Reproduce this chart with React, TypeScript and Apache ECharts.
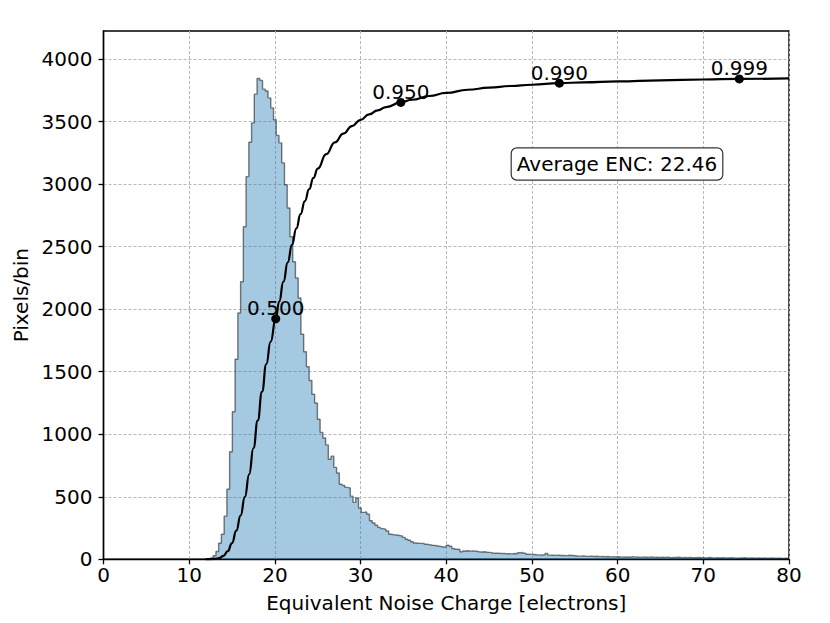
import React, { useEffect, useRef } from "react";
import * as echarts from "echarts";

// Histogram: left edge of first bin and bin width (electrons)
const binStart = 11.84;
const binWidth = 0.32;
const histCounts = [
  2, 4, 10, 28, 62, 128, 200, 345, 560, 860,
  1180, 1600, 1970, 2220, 2660, 3060, 3335, 3490, 3720, 3845,
  3830, 3760, 3745, 3690, 3610, 3515, 3390, 3330, 3170, 2995,
  2810, 2580, 2380, 2250, 2090, 1800, 1660, 1540, 1430, 1320,
  1250, 1120, 1015, 970, 915, 800, 825, 735, 690, 600,
  590, 575, 570, 505, 455, 490, 410, 375, 378, 360,
  308, 290, 272, 255, 245, 240, 226, 200, 196, 194,
  190, 186, 175, 160, 152, 140, 130, 128, 127, 126,
  120, 116, 112, 110, 106, 102, 98, 100, 112, 104,
  86, 80, 78, 60, 66, 68, 65, 67, 64, 60,
  58, 60, 56, 55, 50, 48, 49, 46, 47, 44,
  45, 43, 46, 44, 52, 54, 48, 40, 39, 38,
  36, 35, 34, 36, 46, 33, 32, 31, 33, 30,
  31, 29, 32, 30, 28, 26, 25, 27, 24, 23,
  25, 22, 24, 21, 23, 20, 22, 19, 21, 18,
  20, 17, 19, 18, 16, 21, 17, 18, 15, 19,
  16, 17, 18, 15, 16, 14, 17, 15, 16, 13,
  15, 14, 16, 13, 14, 12, 15, 13, 12, 14,
  12, 13, 11, 14, 12, 11, 13, 10, 12, 11,
  10, 12, 11, 9, 11, 10, 12, 9, 10, 11,
  9, 10, 8, 10, 9, 8, 10, 9, 8, 9,
  7, 9, 8,
];

// Cumulative curve (scaled)
const cdfX = [
  12.0, 13.0, 13.5, 14.0, 14.5, 15.0, 15.5, 16.0, 16.5, 17.0,
  17.5, 18.0, 18.5, 19.0, 19.5, 20.1, 20.5, 21.0, 21.5, 22.0,
  22.5, 23.0, 23.5, 24.0, 24.5, 25.0, 26.0, 27.0, 28.0, 29.0, 30.0,
  31.0, 32.0, 33.0, 34.7, 36.0, 38.0, 40.0, 42.5, 45.0, 47.5,
  50.0, 53.2, 56.0, 60.0, 65.0, 70.0, 74.2, 80.0,
];
const cdfY = [
  0, 3, 10, 28, 65, 130, 230, 350, 500, 680,
  890, 1110, 1340, 1560, 1740, 1923, 2060, 2220, 2375, 2515,
  2645, 2760, 2865, 2960, 3050, 3125, 3240, 3335, 3405, 3465, 3515,
  3558, 3590, 3617, 3654, 3675, 3705, 3730, 3755, 3772, 3785,
  3795, 3808, 3814, 3822, 3830, 3837, 3842, 3846,
];

// Quantile markers
const quantileLabels = ["0.500", "0.950", "0.990", "0.999"];
const quantileX = [20.1, 34.7, 53.2, 74.2];
const quantileY = [1923, 3654, 3808, 3842];

const yTickValues = [0, 500, 1000, 1500, 2000, 2500, 3000, 3500, 4000];
const xAxisTitle = "Equivalent Noise Charge [electrons]";
const yAxisTitle = "Pixels/bin";
const annotationText = "Average ENC: 22.46";

const FONT = "DejaVu Sans";
const FS = 20;

export default function App() {
  const ref = useRef<HTMLDivElement>(null);

  useEffect(() => {
    document.body.style.margin = "0";
    if (!ref.current) return;
    const chart = echarts.init(ref.current, undefined, { renderer: "svg" });

    const histData: number[][] = histCounts.map((v, i) => [binStart + i * binWidth, v]);
    histData.push([80, histCounts[histCounts.length - 1]]);

    const cdfData = cdfX.map((x, i) => [x, cdfY[i]]);
    const qData = quantileX.map((x, i) => [x, quantileY[i]]);

    chart.setOption({
      animation: false,
      backgroundColor: "#fff",
      grid: {
        left: 103.5,
        right: 41,
        top: 31,
        bottom: 63.7,
        show: true,
        borderColor: "#000",
        borderWidth: 1.4,
        backgroundColor: "transparent",
      },
      xAxis: {
        type: "value",
        min: 0,
        max: 80,
        interval: 10,
        name: xAxisTitle,
        nameLocation: "middle",
        nameGap: 34,
        nameTextStyle: { fontSize: FS, color: "#000", fontFamily: FONT },
        axisLine: { show: true, onZero: false, lineStyle: { color: "#000", width: 1.4 } },
        axisTick: { show: true, length: 5, lineStyle: { color: "#000", width: 1.3 } },
        axisLabel: { color: "#000", fontSize: FS, fontFamily: FONT, margin: 6 },
        splitLine: { show: true, lineStyle: { color: "#b8b8b8", type: [3, 2], width: 1 } },
      },
      yAxis: {
        type: "value",
        min: 0,
        max: 4225,
        interval: 500,
        name: yAxisTitle,
        nameLocation: "middle",
        nameGap: 70,
        nameTextStyle: { fontSize: FS, color: "#000", fontFamily: FONT },
        axisLine: { show: true, lineStyle: { color: "#000", width: 1.4 } },
        axisTick: { show: true, length: 5, customValues: yTickValues, lineStyle: { color: "#000", width: 1.3 } },
        axisLabel: {
          color: "#000",
          fontSize: FS,
          fontFamily: FONT,
          margin: 11,
          customValues: yTickValues,
          formatter: (v: number) => (v % 500 === 0 ? String(v) : ""),
        },
        splitLine: { show: true, lineStyle: { color: "#b8b8b8", type: [3, 2], width: 1 } },
      },
      series: [
        {
          type: "line",
          step: "end",
          data: histData,
          symbol: "none",
          lineStyle: { color: "rgba(0,0,0,0.5)", width: 1.4 },
          areaStyle: { color: "rgba(31,119,180,0.4)", opacity: 1 },
          z: 2,
          silent: true,
        },
        {
          type: "line",
          data: cdfData,
          smooth: 0.5,
          smoothMonotone: "x",
          symbol: "none",
          lineStyle: { color: "#000", width: 2.2 },
          z: 3,
          silent: true,
        },
        {
          type: "scatter",
          data: qData,
          symbolSize: 9,
          itemStyle: { color: "#000", opacity: 1 },
          z: 4,
          label: {
            show: true,
            position: "top",
            distance: -4,
            formatter: (p: any) => quantileLabels[p.dataIndex],
            color: "#000",
            fontSize: FS,
            fontFamily: FONT,
          },
        },
      ],
      graphic: [
        {
          type: "text",
          x: 617,
          y: 164,
          z: 10,
          style: {
            text: annotationText,
            align: "center",
            verticalAlign: "middle",
            fill: "#000",
            font: `${FS}px '${FONT}'`,
            backgroundColor: "#fff",
            borderColor: "#333",
            borderWidth: 1.2,
            borderRadius: 5,
            padding: [6, 5, 5, 5],
          },
        },
      ],
    });

    return () => chart.dispose();
  }, []);

  return <div ref={ref} style={{ width: 830, height: 623 }} />;
}
